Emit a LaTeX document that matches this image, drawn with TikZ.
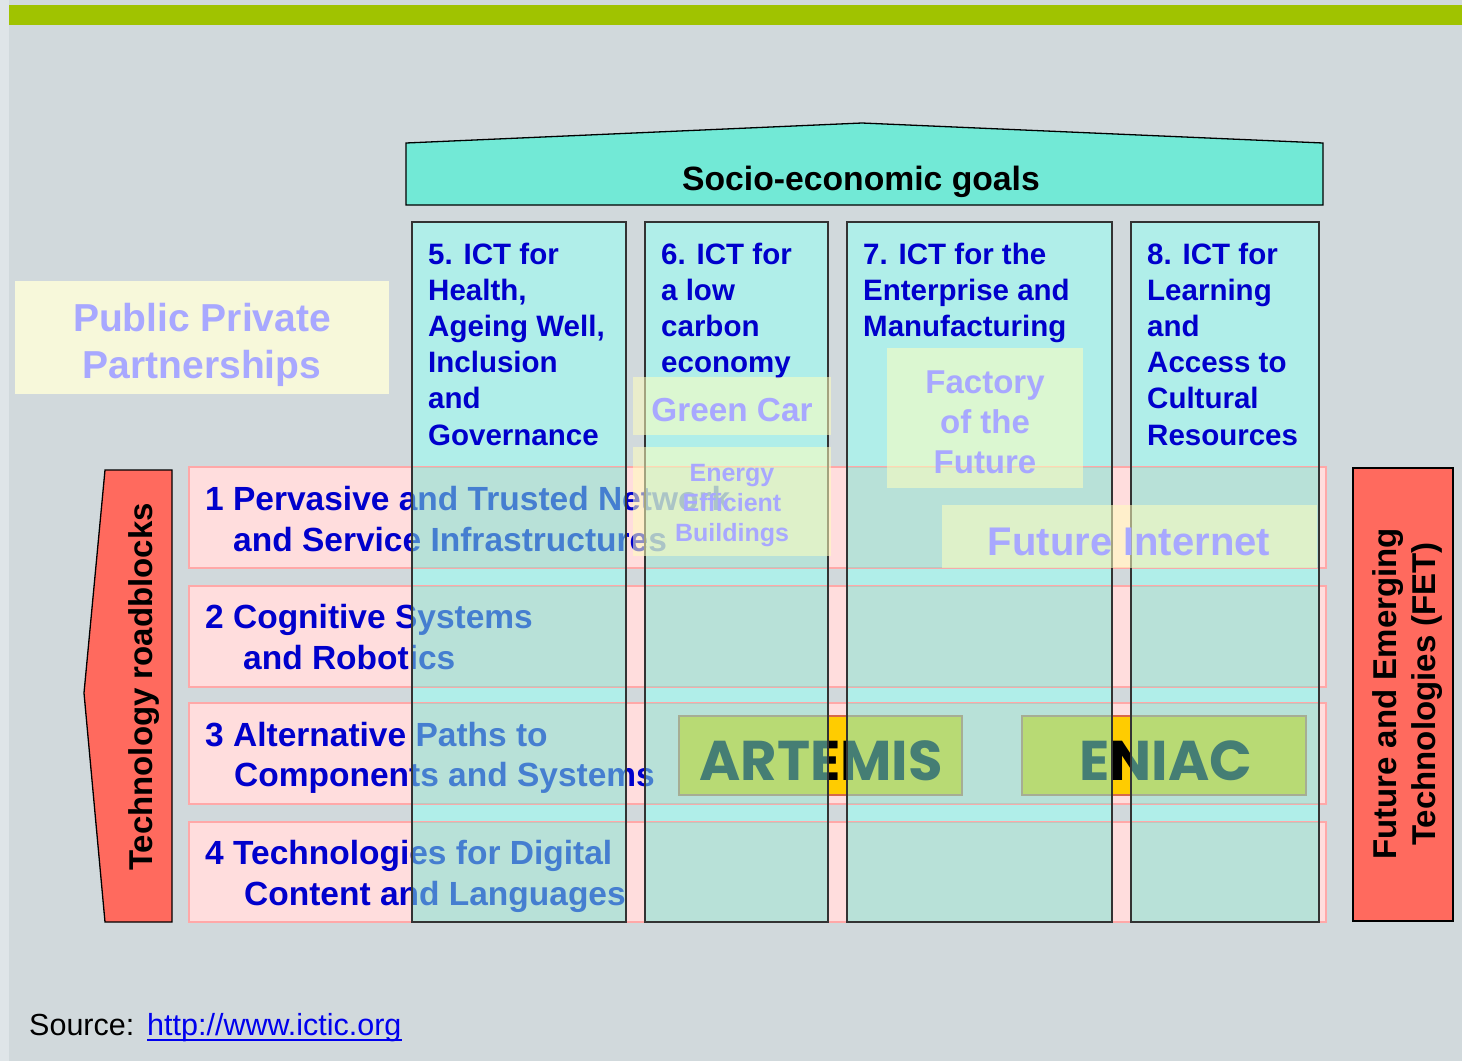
\documentclass[tikz,border=0pt]{standalone}
\usepackage{fontspec}
\setmainfont{Liberation Sans}
\newfontfamily\artfont{Poppins}
\definecolor{bgc}{HTML}{D1D9DC}
\definecolor{stripc}{HTML}{DFE5E8}
\definecolor{barc}{HTML}{A0C300}
\definecolor{socioc}{HTML}{72E9D6}
\definecolor{colc}{HTML}{B0EEE9}
\definecolor{ovlc}{HTML}{7EE6D4}
\definecolor{pinkc}{HTML}{FFDDDD}
\definecolor{pinkb}{HTML}{FFA8A8}
\definecolor{redc}{HTML}{FF6A5E}
\definecolor{txtblue}{HTML}{0000CC}
\definecolor{lavc}{HTML}{A8A8FF}
\definecolor{pppc}{HTML}{F7F8DA}
\definecolor{ppbox}{HTML}{FFFFBE}
\definecolor{yelc}{HTML}{FFCC00}
\definecolor{yelb}{HTML}{D86848}
\definecolor{linkc}{HTML}{0000EE}
\definecolor{colline}{HTML}{333333}
\begin{document}
\begin{tikzpicture}[x=1pt,y=-1pt,
  coltext/.style={font=\bfseries\fontsize{29.5}{35}\selectfont, text=txtblue, inner sep=0, anchor=base west},
  rowtext/.style={font=\bfseries\fontsize{33.5}{40}\selectfont, text=txtblue, inner sep=0, anchor=base west},
  lavtext/.style={text=lavc, inner sep=0, anchor=base},
  redbox/.style={fill=redc, draw=black, line width=1.3},
  rowbox/.style={fill=pinkc, draw=pinkb, line width=2},
  ppboxst/.style={fill=ppbox, fill opacity=0.55},
  artbox/.style={fill=yelc, draw=yelb, line width=1.8},
  arttext/.style={font=\artfont\bfseries\fontsize{56}{60}\selectfont, text=black, inner sep=0, anchor=base},
  rottext/.style={font=\bfseries\fontsize{33}{40}\selectfont, text=black, inner sep=0, anchor=base, rotate=90}
]
\useasboundingbox (0,0) rectangle (1462,1061);
% background
\fill[bgc] (0,0) rectangle (1462,1061);
\fill[stripc] (0,0) rectangle (9,1061);
\fill[barc] (9,5) rectangle (1462,25);
% socio-economic goals roof
\draw[fill=socioc, draw=black, line width=1.3] (406,143) -- (862,123) -- (1323,143) -- (1323,205) -- (406,205) -- cycle;
\node[font=\bfseries\fontsize{33.7}{40}\selectfont, inner sep=0, anchor=base] (socio) at (861,190) {Socio-economic goals};
% public private partnerships
\fill[pppc] (15,281) rectangle (389,394);
\node[lavtext, font=\bfseries\fontsize{39}{46}\selectfont] (ppp1) at (202,331) {Public Private};
\node[lavtext, font=\bfseries\fontsize{39}{46}\selectfont] (ppp2) at (202,378) {Partnerships};
% column bases
\fill[colc] (412,222) rectangle (626,922);
\fill[colc] (645,222) rectangle (828,922);
\fill[colc] (847,222) rectangle (1112,922);
\fill[colc] (1131,222) rectangle (1319,922);
% rows
\draw[rowbox] (189,467) rectangle (1326,568);
\draw[rowbox] (189,586) rectangle (1326,687);
\draw[rowbox] (189,703) rectangle (1326,804);
\draw[rowbox] (189,822) rectangle (1326,922);
\node[rowtext] (r1a) at (205,510) {1 Pervasive and Trusted Network};
\node[rowtext] (r1b) at (233,551) {and Service Infrastructures};
\node[rowtext] (r2a) at (205,628) {2 Cognitive Systems};
\node[rowtext] (r2b) at (243,669) {and Robotics};
\node[rowtext] (r3a) at (205,746) {3 Alternative Paths to};
\node[rowtext] (r3b) at (234,786) {Components and Systems};
\node[rowtext] (r4a) at (205,864) {4 Technologies for Digital};
\node[rowtext] (r4b) at (244,905) {Content and Languages};
% ARTEMIS / ENIAC
\draw[artbox] (679,716) rectangle (962,795);
\draw[artbox] (1022,716) rectangle (1306,795);
\node[arttext] (artemis) at (821,780) {ARTEMIS};
\node[arttext] (eniac) at (1166,780) {ENIAC};
% column overlay on rows
\begin{scope}
  \clip (189,467) rectangle (1326,568) (189,586) rectangle (1326,687)
        (189,703) rectangle (1326,804) (189,822) rectangle (1326,922);
  \fill[ovlc, fill opacity=0.55] (412,222) rectangle (626,922);
  \fill[ovlc, fill opacity=0.55] (645,222) rectangle (828,922);
  \fill[ovlc, fill opacity=0.55] (847,222) rectangle (1112,922);
  \fill[ovlc, fill opacity=0.55] (1131,222) rectangle (1319,922);
\end{scope}
% column borders
\draw[colline, line width=1.8] (412,222) rectangle (626,922);
\draw[colline, line width=1.8] (645,222) rectangle (828,922);
\draw[colline, line width=1.8] (847,222) rectangle (1112,922);
\draw[colline, line width=1.8] (1131,222) rectangle (1319,922);
% column texts
\foreach \t [count=\i] in {{5. ICT for},{Health,},{Ageing Well,},{Inclusion},{and},{Governance}}
  \node[coltext] (c5-\i) at (428,{264+36.2*(\i-1)}) {\t};
\foreach \t [count=\i] in {{6. ICT for},{a low},{carbon},{economy}}
  \node[coltext] (c6-\i) at (661,{264+36.2*(\i-1)}) {\t};
\foreach \t [count=\i] in {{7. ICT for the},{Enterprise and},{Manufacturing}}
  \node[coltext] (c7-\i) at (863,{264+36.2*(\i-1)}) {\t};
\foreach \t [count=\i] in {{8. ICT for},{Learning},{and},{Access to},{Cultural},{Resources}}
  \node[coltext] (c8-\i) at (1147,{264+36.2*(\i-1)}) {\t};
% PPP project boxes
\fill[ppboxst] (633,377) rectangle (831,435);
\node[lavtext, font=\bfseries\fontsize{33.3}{40}\selectfont] (gcar) at (732,421) {Green Car};
\fill[ppboxst] (633,447) rectangle (831,556);
\node[lavtext, font=\bfseries\fontsize{25}{30}\selectfont] (eeb1) at (732,481) {Energy};
\node[lavtext, font=\bfseries\fontsize{25}{30}\selectfont] (eeb2) at (732,511) {Efficient};
\node[lavtext, font=\bfseries\fontsize{25}{30}\selectfont] (eeb3) at (732,541) {Buildings};
\fill[ppboxst] (887,348) rectangle (1083,488);
\node[lavtext, font=\bfseries\fontsize{33}{40}\selectfont] (fof1) at (985,393) {Factory};
\node[lavtext, font=\bfseries\fontsize{33}{40}\selectfont] (fof2) at (985,433) {of the};
\node[lavtext, font=\bfseries\fontsize{33}{40}\selectfont] (fof3) at (985,473) {Future};
\fill[ppboxst] (942,505) rectangle (1317,568);
\node[lavtext, font=\bfseries\fontsize{40}{46}\selectfont] (fint) at (1129,555) {Future Internet};
% technology roadblocks
\draw[redbox] (105,470) -- (172,470) -- (172,922) -- (105,922) -- (84,693) -- cycle;
\node[rottext] (techrb) at (152,687) {Technology roadblocks};
% FET
\draw[redbox] (1353,468) rectangle (1453,921);
\node[rottext] (fet1) at (1396,694) {Future and Emerging};
\node[rottext] (fet2) at (1435,694) {Technologies (FET)};
% source
\node[font=\fontsize{30.5}{36}\selectfont, inner sep=0, anchor=base west] (src) at (29,1035) {Source:};
\node[font=\fontsize{30.5}{36}\selectfont, text=linkc, inner sep=0, anchor=base west] (link) at (147,1035) {http://www.ictic.org};
\draw[linkc, line width=1.8] ([yshift=-5pt]link.base west) -- ([yshift=-5pt]link.base east);
\end{tikzpicture}
\end{document}
